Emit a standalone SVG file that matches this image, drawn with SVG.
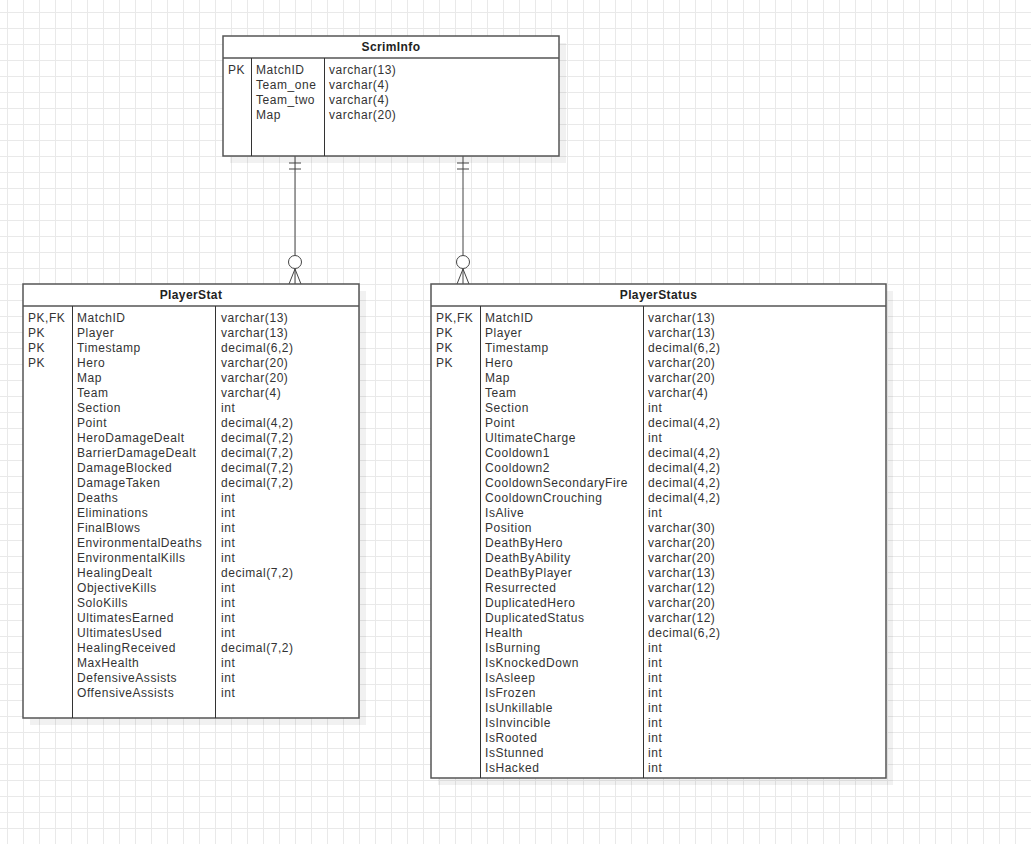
<svg xmlns="http://www.w3.org/2000/svg" width="1031" height="844" viewBox="0 0 1031 844">
<style>
  .box{fill:#fff;stroke:#555;stroke-width:1.5}
  .shadow{fill:#000;fill-opacity:0.055}
  .sep{stroke:#555;stroke-width:1.5;fill:none}
  .div{stroke:#333;stroke-width:1;fill:none}
  .t{font-family:"Liberation Sans",Arial,Helvetica,sans-serif;font-size:12px;letter-spacing:0.55px;fill:#333}
  .title{font-family:"Liberation Sans",Arial,Helvetica,sans-serif;font-size:12px;letter-spacing:0.4px;font-weight:bold;fill:#222;text-anchor:middle}
  .conn{stroke:#444;stroke-width:1;fill:none}
</style>
<defs>
  <pattern id="grid" x="7" y="12" width="16" height="16" patternUnits="userSpaceOnUse">
    <path d="M0 0.5H16M0.5 0V16" stroke="#e9e9e9" stroke-width="1" fill="none"/>
  </pattern>
</defs>
<rect x="0" y="0" width="1031" height="844" fill="#fff"/>
<rect x="0" y="0" width="1031" height="844" fill="url(#grid)"/>

<g id="connectors">
  <path class="conn" d="M295 156V255M289 163H301M289 169H301M295 269L289 284M295 269V284M295 269L301 284"/>
  <circle class="conn" cx="295" cy="262" r="6.5" style="fill:#fff"/>
  <path class="conn" d="M463 156V255M457 163H469M457 169H469M463 269L457 284M463 269V284M463 269L469 284"/>
  <circle class="conn" cx="463" cy="262" r="6.5" style="fill:#fff"/>
</g>

<g id="ScrimInfo">
  <rect class="shadow" x="230" y="43" width="336" height="120"/>
  <rect class="box" x="223" y="36" width="336" height="120"/>
  <path class="sep" d="M223 58H559"/>
  <path class="div" d="M251.5 58V156M324.5 58V156"/>
  <text class="title" x="391" y="51">ScrimInfo</text>
  <text class="t" x="228" y="73.5">PK</text>
  <text class="t" y="73.5"><tspan x="256">MatchID</tspan><tspan x="256" dy="15">Team_one</tspan><tspan x="256" dy="15">Team_two</tspan><tspan x="256" dy="15">Map</tspan></text>
  <text class="t" y="73.5"><tspan x="329">varchar(13)</tspan><tspan x="329" dy="15">varchar(4)</tspan><tspan x="329" dy="15">varchar(4)</tspan><tspan x="329" dy="15">varchar(20)</tspan></text>
</g>

<g id="PlayerStat">
  <rect class="shadow" x="30" y="291" width="336" height="434"/>
  <rect class="box" x="23" y="284" width="336" height="434"/>
  <path class="sep" d="M23 306H359"/>
  <path class="div" d="M72.5 306V718M215.5 306V718"/>
  <text class="title" x="191" y="299">PlayerStat</text>
  <text class="t" y="321.5"><tspan x="28">PK,FK</tspan><tspan x="28" dy="15">PK</tspan><tspan x="28" dy="15">PK</tspan><tspan x="28" dy="15">PK</tspan></text>
  <text class="t" y="321.5"><tspan x="77">MatchID</tspan><tspan x="77" dy="15">Player</tspan><tspan x="77" dy="15">Timestamp</tspan><tspan x="77" dy="15">Hero</tspan><tspan x="77" dy="15">Map</tspan><tspan x="77" dy="15">Team</tspan><tspan x="77" dy="15">Section</tspan><tspan x="77" dy="15">Point</tspan><tspan x="77" dy="15">HeroDamageDealt</tspan><tspan x="77" dy="15">BarrierDamageDealt</tspan><tspan x="77" dy="15">DamageBlocked</tspan><tspan x="77" dy="15">DamageTaken</tspan><tspan x="77" dy="15">Deaths</tspan><tspan x="77" dy="15">Eliminations</tspan><tspan x="77" dy="15">FinalBlows</tspan><tspan x="77" dy="15">EnvironmentalDeaths</tspan><tspan x="77" dy="15">EnvironmentalKills</tspan><tspan x="77" dy="15">HealingDealt</tspan><tspan x="77" dy="15">ObjectiveKills</tspan><tspan x="77" dy="15">SoloKills</tspan><tspan x="77" dy="15">UltimatesEarned</tspan><tspan x="77" dy="15">UltimatesUsed</tspan><tspan x="77" dy="15">HealingReceived</tspan><tspan x="77" dy="15">MaxHealth</tspan><tspan x="77" dy="15">DefensiveAssists</tspan><tspan x="77" dy="15">OffensiveAssists</tspan></text>
  <text class="t" y="321.5"><tspan x="221">varchar(13)</tspan><tspan x="221" dy="15">varchar(13)</tspan><tspan x="221" dy="15">decimal(6,2)</tspan><tspan x="221" dy="15">varchar(20)</tspan><tspan x="221" dy="15">varchar(20)</tspan><tspan x="221" dy="15">varchar(4)</tspan><tspan x="221" dy="15">int</tspan><tspan x="221" dy="15">decimal(4,2)</tspan><tspan x="221" dy="15">decimal(7,2)</tspan><tspan x="221" dy="15">decimal(7,2)</tspan><tspan x="221" dy="15">decimal(7,2)</tspan><tspan x="221" dy="15">decimal(7,2)</tspan><tspan x="221" dy="15">int</tspan><tspan x="221" dy="15">int</tspan><tspan x="221" dy="15">int</tspan><tspan x="221" dy="15">int</tspan><tspan x="221" dy="15">int</tspan><tspan x="221" dy="15">decimal(7,2)</tspan><tspan x="221" dy="15">int</tspan><tspan x="221" dy="15">int</tspan><tspan x="221" dy="15">int</tspan><tspan x="221" dy="15">int</tspan><tspan x="221" dy="15">decimal(7,2)</tspan><tspan x="221" dy="15">int</tspan><tspan x="221" dy="15">int</tspan><tspan x="221" dy="15">int</tspan></text>
</g>

<g id="PlayerStatus">
  <rect class="shadow" x="438" y="291" width="455" height="494"/>
  <rect class="box" x="431" y="284" width="455" height="494"/>
  <path class="sep" d="M431 306H886"/>
  <path class="div" d="M480.5 306V778M643.5 306V778"/>
  <text class="title" x="658.5" y="299">PlayerStatus</text>
  <text class="t" y="321.5"><tspan x="436">PK,FK</tspan><tspan x="436" dy="15">PK</tspan><tspan x="436" dy="15">PK</tspan><tspan x="436" dy="15">PK</tspan></text>
  <text class="t" y="321.5"><tspan x="485">MatchID</tspan><tspan x="485" dy="15">Player</tspan><tspan x="485" dy="15">Timestamp</tspan><tspan x="485" dy="15">Hero</tspan><tspan x="485" dy="15">Map</tspan><tspan x="485" dy="15">Team</tspan><tspan x="485" dy="15">Section</tspan><tspan x="485" dy="15">Point</tspan><tspan x="485" dy="15">UltimateCharge</tspan><tspan x="485" dy="15">Cooldown1</tspan><tspan x="485" dy="15">Cooldown2</tspan><tspan x="485" dy="15">CooldownSecondaryFire</tspan><tspan x="485" dy="15">CooldownCrouching</tspan><tspan x="485" dy="15">IsAlive</tspan><tspan x="485" dy="15">Position</tspan><tspan x="485" dy="15">DeathByHero</tspan><tspan x="485" dy="15">DeathByAbility</tspan><tspan x="485" dy="15">DeathByPlayer</tspan><tspan x="485" dy="15">Resurrected</tspan><tspan x="485" dy="15">DuplicatedHero</tspan><tspan x="485" dy="15">DuplicatedStatus</tspan><tspan x="485" dy="15">Health</tspan><tspan x="485" dy="15">IsBurning</tspan><tspan x="485" dy="15">IsKnockedDown</tspan><tspan x="485" dy="15">IsAsleep</tspan><tspan x="485" dy="15">IsFrozen</tspan><tspan x="485" dy="15">IsUnkillable</tspan><tspan x="485" dy="15">IsInvincible</tspan><tspan x="485" dy="15">IsRooted</tspan><tspan x="485" dy="15">IsStunned</tspan><tspan x="485" dy="15">IsHacked</tspan></text>
  <text class="t" y="321.5"><tspan x="648">varchar(13)</tspan><tspan x="648" dy="15">varchar(13)</tspan><tspan x="648" dy="15">decimal(6,2)</tspan><tspan x="648" dy="15">varchar(20)</tspan><tspan x="648" dy="15">varchar(20)</tspan><tspan x="648" dy="15">varchar(4)</tspan><tspan x="648" dy="15">int</tspan><tspan x="648" dy="15">decimal(4,2)</tspan><tspan x="648" dy="15">int</tspan><tspan x="648" dy="15">decimal(4,2)</tspan><tspan x="648" dy="15">decimal(4,2)</tspan><tspan x="648" dy="15">decimal(4,2)</tspan><tspan x="648" dy="15">decimal(4,2)</tspan><tspan x="648" dy="15">int</tspan><tspan x="648" dy="15">varchar(30)</tspan><tspan x="648" dy="15">varchar(20)</tspan><tspan x="648" dy="15">varchar(20)</tspan><tspan x="648" dy="15">varchar(13)</tspan><tspan x="648" dy="15">varchar(12)</tspan><tspan x="648" dy="15">varchar(20)</tspan><tspan x="648" dy="15">varchar(12)</tspan><tspan x="648" dy="15">decimal(6,2)</tspan><tspan x="648" dy="15">int</tspan><tspan x="648" dy="15">int</tspan><tspan x="648" dy="15">int</tspan><tspan x="648" dy="15">int</tspan><tspan x="648" dy="15">int</tspan><tspan x="648" dy="15">int</tspan><tspan x="648" dy="15">int</tspan><tspan x="648" dy="15">int</tspan><tspan x="648" dy="15">int</tspan></text>
</g>
</svg>
